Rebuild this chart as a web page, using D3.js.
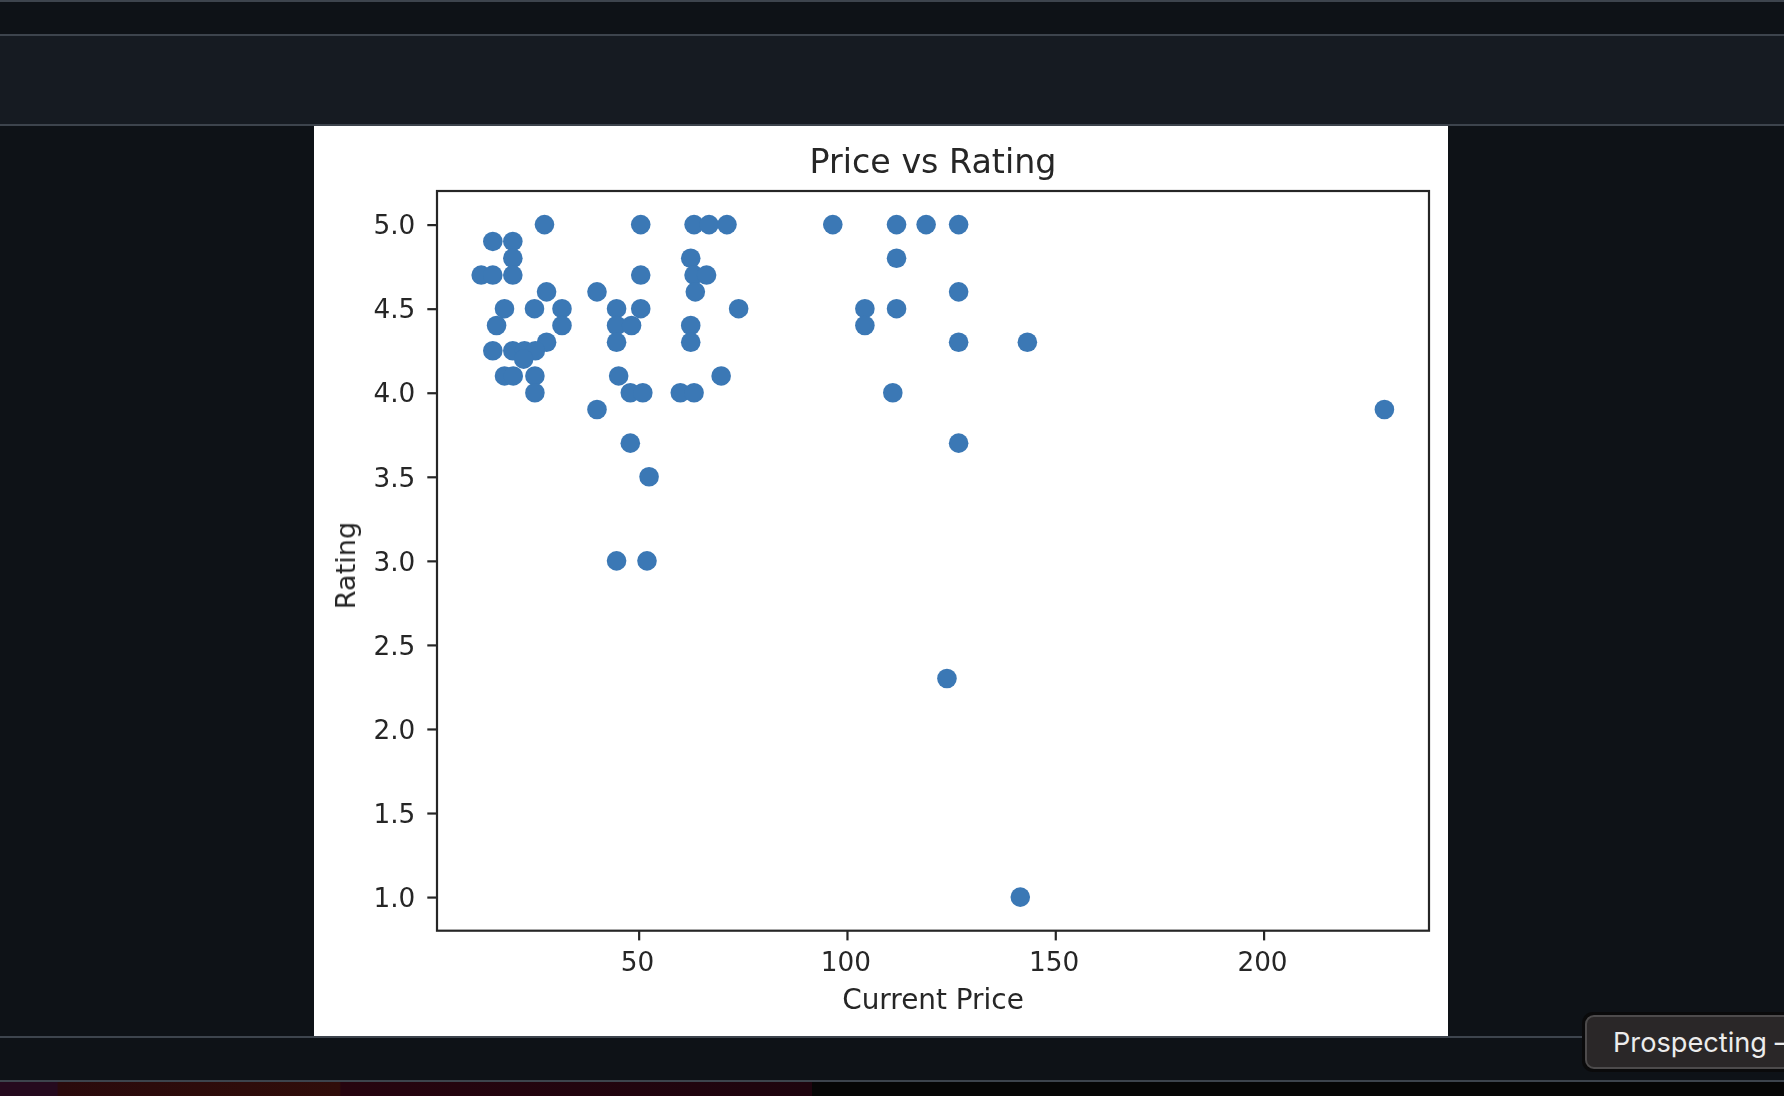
<!DOCTYPE html>
<html>
<head>
<meta charset="utf-8">
<script src="https://cdn.jsdelivr.net/npm/d3@7"></script>
<style>
  html, body { margin: 0; padding: 0; background: #0e1217; overflow: hidden; }
  svg { display: block; }
  .plot { filter: blur(0.7px); }
</style>
</head>
<body>
<svg id="page" width="1784" height="1096"></svg>
<script>
// values
const prices = [
  27.4, 50.5, 63.3, 66.9, 71.2, 96.6, 111.9, 119, 126.8,
  15, 19.8,
  19.8, 62.5, 111.9,
  12.2, 15, 19.8, 50.5, 63.3, 66.3,
  27.9, 40, 63.6, 126.8,
  17.8, 25, 31.6, 44.7, 50.5, 74, 104.3, 111.9,
  15.9, 31.6, 44.7, 48.3, 62.5, 104.3,
  27.9, 44.7, 62.5, 126.8, 143.3,
  15, 19.8, 22.6, 25.2,
  22.4,
  17.8, 19.9, 25.1, 45.2, 69.8,
  25.1, 48, 51, 60, 63.3, 111,
  40, 229,
  48, 126.8,
  52.5,
  44.7, 52,
  124,
  141.6
];
const ratings = [
  5, 5, 5, 5, 5, 5, 5, 5, 5,
  4.9, 4.9,
  4.8, 4.8, 4.8,
  4.7, 4.7, 4.7, 4.7, 4.7, 4.7,
  4.6, 4.6, 4.6, 4.6,
  4.5, 4.5, 4.5, 4.5, 4.5, 4.5, 4.5, 4.5,
  4.4, 4.4, 4.4, 4.4, 4.4, 4.4,
  4.3, 4.3, 4.3, 4.3, 4.3,
  4.25, 4.25, 4.25, 4.25,
  4.2,
  4.1, 4.1, 4.1, 4.1, 4.1,
  4, 4, 4, 4, 4, 4,
  3.9, 3.9,
  3.7, 3.7,
  3.5,
  3, 3,
  2.3,
  1
];
const xTicks = [50, 100, 150, 200];
const yTicks = [1, 1.5, 2, 2.5, 3, 3.5, 4, 4.5, 5];
const xDomain = [1.6, 239.7];
const yDomain = [0.8, 5.2];

const svg = d3.select("#page");
const font = "'DejaVu Sans', sans-serif";
const ink = "#262626";
const rule = "#3d444d";

// ==========================================
// PAGE AROUND THE PICTURE
// ==========================================
const stripes = svg.append("defs").append("linearGradient").attr("id", "wall");
[["0%", "#250a1e"], ["7%", "#250a1e"], ["7.2%", "#2a0a0c"], ["41.8%", "#300d0a"], ["42%", "#26040f"], ["100%", "#1e040e"]]
  .forEach(s => stripes.append("stop").attr("offset", s[0]).attr("stop-color", s[1]));

svg.append("rect").attr("width", 1784).attr("height", 1096).attr("fill", "#0e1217");
svg.append("rect").attr("y", 36).attr("width", 1784).attr("height", 88).attr("fill", "#161b22");
svg.append("rect").attr("y", 1082).attr("width", 1784).attr("height", 14).attr("fill", "#060606");
svg.append("rect").attr("y", 1082).attr("width", 812).attr("height", 14).attr("fill", "url(#wall)");

[[0, 1784, 1], [0, 1784, 35], [0, 1784, 125], [0, 1784, 1037], [0, 1784, 1081]].forEach(l => {
  svg.append("line")
    .attr("x1", l[0]).attr("x2", l[1]).attr("y1", l[2]).attr("y2", l[2])
    .attr("stroke", rule).attr("stroke-width", 2);
});

svg.append("rect").attr("x", 314).attr("y", 126).attr("width", 1134).attr("height", 910).attr("fill", "#fff");

// ==========================================
// CHART
// ==========================================
const plotLeft = 437, plotRight = 1429, plotTop = 191, plotBottom = 930.7;
const x = d3.scaleLinear().domain(xDomain).range([plotLeft, plotRight]);
const y = d3.scaleLinear().domain(yDomain).range([plotBottom, plotTop]);

const plot = svg.append("g").attr("class", "plot");

plot.append("g")
  .selectAll("circle")
  .data(prices.map((p, i) => ({ price: p, rating: ratings[i] })))
  .enter().append("circle")
  .attr("cx", d => x(d.price))
  .attr("cy", d => y(d.rating))
  .attr("r", 9.8)
  .attr("fill", "#3b78b5");

const xAxis = plot.append("g")
  .attr("transform", `translate(0,${plotBottom})`)
  .call(d3.axisBottom(x).tickValues(xTicks).tickSize(9.7).tickPadding(11.5).tickFormat(d3.format("d")));

const yAxis = plot.append("g")
  .attr("transform", `translate(${plotLeft},0)`)
  .call(d3.axisLeft(y).tickValues(yTicks).tickSize(9.7).tickPadding(12).tickFormat(d3.format(".1f")));

[xAxis, yAxis].forEach(a => {
  a.select(".domain").remove();
  a.selectAll("line").attr("stroke", ink).attr("stroke-width", 2.2);
  a.selectAll("text").attr("fill", ink).attr("font-family", font).attr("font-size", 26.3);
});
xAxis.selectAll("text").attr("dx", -1.6);
yAxis.selectAll("text").attr("dy", "0.35em");

plot.append("rect")
  .attr("x", plotLeft).attr("y", plotTop).attr("width", plotRight - plotLeft).attr("height", plotBottom - plotTop)
  .attr("fill", "none").attr("stroke", ink).attr("stroke-width", 2.2);

plot.append("text")
  .attr("x", (plotLeft + plotRight) / 2).attr("y", 173)
  .attr("text-anchor", "middle")
  .attr("fill", ink).attr("font-family", font).attr("font-size", 33.3)
  .text("Price vs Rating");

plot.append("text")
  .attr("x", (plotLeft + plotRight) / 2).attr("y", 1009)
  .attr("text-anchor", "middle")
  .attr("fill", ink).attr("font-family", font).attr("font-size", 27.9)
  .text("Current Price");

plot.append("text")
  .attr("transform", `translate(355,565.5) rotate(-90)`)
  .attr("text-anchor", "middle")
  .attr("fill", ink).attr("font-family", font).attr("font-size", 27.1)
  .text("Rating");

// ==========================================
// FLOATING LABEL
// ==========================================
svg.append("rect")
  .attr("x", 1582).attr("y", 1012).attr("width", 240).attr("height", 60).attr("rx", 11)
  .attr("fill", "#0a0a0b");

svg.append("rect")
  .attr("x", 1586).attr("y", 1016).attr("width", 240).attr("height", 52).attr("rx", 8)
  .attr("fill", "#2a2728").attr("stroke", "#4d4b4c").attr("stroke-width", 2);

svg.append("text")
  .attr("x", 1613).attr("y", 1052)
  .attr("fill", "#ececec").attr("font-family", "Inter, sans-serif").attr("font-size", 27.2)
  .text("Prospecting –");
</script>
</body>
</html>
